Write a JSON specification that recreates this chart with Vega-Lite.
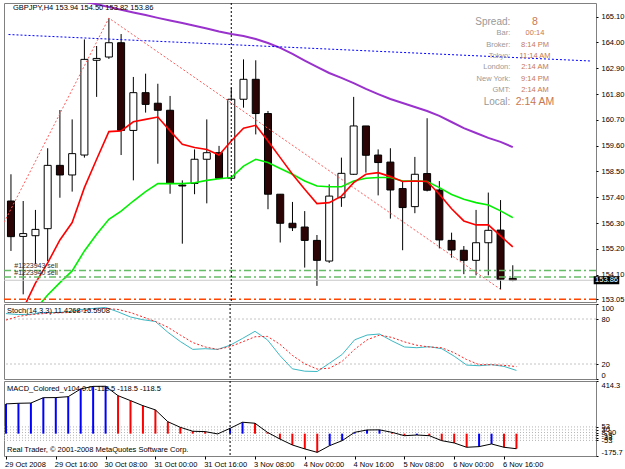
{
  "$schema": "https://vega.github.io/schema/vega-lite/v6.json",
  "background": "#ffffff",
  "padding": {"left": 2, "top": 2, "right": 0, "bottom": 0},
  "spacing": 2,
  "bounds": "flush",
  "config": {
    "view": {"stroke": "#808080", "strokeWidth": 1},
    "axis": {"labelFont": "Liberation Sans", "labelFontSize": 7.5, "labelColor": "#000000", "tickColor": "#000000", "tickSize": 2, "domain": false, "grid": false, "labelOverlap": false, "labelBound": false},
    "text": {"font": "Liberation Sans", "fontSize": 7.5}
  },
  "datasets": {
    "bars": [
      {"i": 0, "o": 157.24, "h": 158.38, "l": 155.11, "c": 155.72},
      {"i": 1, "o": 155.73, "h": 157.24, "l": 153.26, "c": 155.85},
      {"i": 2, "o": 155.76, "h": 156.86, "l": 154.54, "c": 156.03},
      {"i": 3, "o": 156.06, "h": 159.49, "l": 154.68, "c": 158.76},
      {"i": 4, "o": 158.76, "h": 161.12, "l": 157.38, "c": 158.35},
      {"i": 5, "o": 158.35, "h": 160.72, "l": 157.64, "c": 159.26},
      {"i": 6, "o": 159.20, "h": 164.13, "l": 159.09, "c": 163.28},
      {"i": 7, "o": 163.24, "h": 163.85, "l": 161.68, "c": 163.32},
      {"i": 8, "o": 163.38, "h": 165.04, "l": 163.30, "c": 163.99},
      {"i": 9, "o": 163.99, "h": 164.36, "l": 159.20, "c": 160.25},
      {"i": 10, "o": 160.25, "h": 162.53, "l": 158.12, "c": 161.86},
      {"i": 11, "o": 161.86, "h": 162.67, "l": 161.01, "c": 161.36},
      {"i": 12, "o": 161.41, "h": 162.24, "l": 158.83, "c": 161.11},
      {"i": 13, "o": 161.11, "h": 161.72, "l": 157.55, "c": 157.99},
      {"i": 14, "o": 157.92, "h": 158.12, "l": 155.42, "c": 157.88},
      {"i": 15, "o": 157.99, "h": 159.44, "l": 157.53, "c": 159.02},
      {"i": 16, "o": 159.02, "h": 160.72, "l": 157.14, "c": 159.30},
      {"i": 17, "o": 159.30, "h": 159.59, "l": 158.17, "c": 158.21},
      {"i": 18, "o": 158.21, "h": 162.07, "l": 158.12, "c": 161.58},
      {"i": 19, "o": 161.58, "h": 163.28, "l": 161.22, "c": 162.43},
      {"i": 20, "o": 162.43, "h": 163.24, "l": 160.08, "c": 160.97},
      {"i": 21, "o": 160.97, "h": 161.08, "l": 156.89, "c": 157.53},
      {"i": 22, "o": 157.53, "h": 157.53, "l": 155.47, "c": 156.29},
      {"i": 23, "o": 156.29, "h": 157.20, "l": 155.96, "c": 156.10},
      {"i": 24, "o": 156.13, "h": 156.81, "l": 154.40, "c": 155.56},
      {"i": 25, "o": 155.56, "h": 155.79, "l": 153.62, "c": 154.71},
      {"i": 26, "o": 154.68, "h": 157.95, "l": 154.60, "c": 157.45},
      {"i": 27, "o": 157.38, "h": 159.09, "l": 156.99, "c": 158.42},
      {"i": 28, "o": 158.38, "h": 161.68, "l": 158.35, "c": 160.44},
      {"i": 29, "o": 160.44, "h": 160.44, "l": 158.45, "c": 159.19},
      {"i": 30, "o": 159.20, "h": 159.44, "l": 157.48, "c": 158.88},
      {"i": 31, "o": 158.90, "h": 159.49, "l": 156.49, "c": 157.71},
      {"i": 32, "o": 157.77, "h": 158.09, "l": 155.14, "c": 156.96},
      {"i": 33, "o": 157.00, "h": 159.12, "l": 156.72, "c": 158.38},
      {"i": 34, "o": 158.41, "h": 160.77, "l": 157.65, "c": 157.70},
      {"i": 35, "o": 157.71, "h": 158.09, "l": 155.22, "c": 155.58},
      {"i": 36, "o": 155.56, "h": 155.89, "l": 154.82, "c": 155.15},
      {"i": 37, "o": 155.14, "h": 155.32, "l": 154.12, "c": 154.71},
      {"i": 38, "o": 154.71, "h": 156.86, "l": 154.07, "c": 155.46},
      {"i": 39, "o": 155.46, "h": 157.60, "l": 154.07, "c": 155.99},
      {"i": 40, "o": 156.00, "h": 157.28, "l": 153.47, "c": 153.90},
      {"i": 41, "o": 153.94, "h": 154.50, "l": 153.82, "c": 153.86}
    ],
    "ma": [
      {"i": 0, "fast": 151.60, "slow": 151.70},
      {"i": 1, "fast": 152.65, "slow": 152.12},
      {"i": 2, "fast": 153.74, "slow": 152.62},
      {"i": 3, "fast": 154.60, "slow": 153.23},
      {"i": 4, "fast": 155.58, "slow": 153.76},
      {"i": 5, "fast": 156.32, "slow": 154.26},
      {"i": 6, "fast": 157.81, "slow": 155.11},
      {"i": 7, "fast": 159.02, "slow": 155.82},
      {"i": 8, "fast": 160.20, "slow": 156.46},
      {"i": 9, "fast": 160.23, "slow": 156.81},
      {"i": 10, "fast": 160.62, "slow": 157.24},
      {"i": 11, "fast": 160.72, "slow": 157.64},
      {"i": 12, "fast": 160.82, "slow": 157.98},
      {"i": 13, "fast": 160.23, "slow": 157.98},
      {"i": 14, "fast": 159.66, "slow": 157.98},
      {"i": 15, "fast": 159.52, "slow": 158.02},
      {"i": 16, "fast": 159.44, "slow": 158.12},
      {"i": 17, "fast": 159.20, "slow": 158.19},
      {"i": 18, "fast": 159.80, "slow": 158.24},
      {"i": 19, "fast": 160.34, "slow": 158.73},
      {"i": 20, "fast": 160.47, "slow": 159.02},
      {"i": 21, "fast": 159.80, "slow": 158.88},
      {"i": 22, "fast": 159.09, "slow": 158.63},
      {"i": 23, "fast": 158.38, "slow": 158.38},
      {"i": 24, "fast": 157.74, "slow": 158.09},
      {"i": 25, "fast": 157.13, "slow": 157.88},
      {"i": 26, "fast": 157.17, "slow": 157.85},
      {"i": 27, "fast": 157.45, "slow": 157.85},
      {"i": 28, "fast": 158.02, "slow": 158.09},
      {"i": 29, "fast": 158.38, "slow": 158.21},
      {"i": 30, "fast": 158.45, "slow": 158.24},
      {"i": 31, "fast": 158.28, "slow": 158.24},
      {"i": 32, "fast": 158.07, "slow": 158.09},
      {"i": 33, "fast": 158.09, "slow": 158.09},
      {"i": 34, "fast": 158.07, "slow": 158.07},
      {"i": 35, "fast": 157.53, "slow": 157.81},
      {"i": 36, "fast": 156.91, "slow": 157.52},
      {"i": 37, "fast": 156.39, "slow": 157.31},
      {"i": 38, "fast": 156.22, "slow": 157.17},
      {"i": 39, "fast": 156.22, "slow": 157.07},
      {"i": 40, "fast": 155.75, "slow": 156.82},
      {"i": 41, "fast": 155.28, "slow": 156.53}
    ],
    "longma": [
      {"i": 5, "p": 165.85}, {"i": 6, "p": 165.74}, {"i": 7, "p": 165.63}, {"i": 8, "p": 165.51},
      {"i": 9, "p": 165.40}, {"i": 10, "p": 165.28}, {"i": 11, "p": 165.17}, {"i": 12, "p": 165.05},
      {"i": 13, "p": 164.94}, {"i": 14, "p": 164.83}, {"i": 15, "p": 164.71}, {"i": 16, "p": 164.60},
      {"i": 17, "p": 164.47}, {"i": 18, "p": 164.36}, {"i": 19, "p": 164.28}, {"i": 20, "p": 164.15},
      {"i": 21, "p": 163.98}, {"i": 22, "p": 163.77}, {"i": 23, "p": 163.51}, {"i": 24, "p": 163.23},
      {"i": 25, "p": 162.96}, {"i": 26, "p": 162.70}, {"i": 27, "p": 162.49}, {"i": 28, "p": 162.27},
      {"i": 29, "p": 162.02}, {"i": 30, "p": 161.80}, {"i": 31, "p": 161.59}, {"i": 32, "p": 161.42},
      {"i": 33, "p": 161.25}, {"i": 34, "p": 161.08}, {"i": 35, "p": 160.87}, {"i": 36, "p": 160.61},
      {"i": 37, "p": 160.35}, {"i": 38, "p": 160.14}, {"i": 39, "p": 159.93}, {"i": 40, "p": 159.76},
      {"i": 41, "p": 159.54}
    ],
    "trend": [{"i": -0.2, "p": 164.34}, {"i": 47.4, "p": 163.21}],
    "zigzag": [{"i": -1, "p": 155.88}, {"i": 8, "p": 165.04}, {"i": 40, "p": 153.47}],
    "orders": [
      {"label": "#1223943 sell", "price": 154.28},
      {"label": "#1223940 sell", "price": 154.00}
    ],
    "info": [
      {"row": 0, "label": "Spread:", "value": "8"},
      {"row": 1, "label": "Bar:", "value": "00:14"},
      {"row": 2, "label": "Broker:", "value": "8:14 PM"},
      {"row": 3, "label": "Tokyo:", "value": "11:14 AM"},
      {"row": 4, "label": "London:", "value": "2:14 AM"},
      {"row": 5, "label": "New York:", "value": "9:14 PM"},
      {"row": 6, "label": "GMT:", "value": "2:14 AM"},
      {"row": 7, "label": "Local:", "value": "2:14 AM"}
    ],
    "stoch": [
      {"i": 0, "k": 87.2, "d": 78.6}, {"i": 1, "k": 85.9, "d": 83.5}, {"i": 2, "k": 86.3, "d": 85.9},
      {"i": 3, "k": 88.6, "d": 87.2}, {"i": 4, "k": 88.6, "d": 88.1}, {"i": 5, "k": 89.5, "d": 88.6},
      {"i": 6, "k": 92.6, "d": 90.4}, {"i": 7, "k": 94.0, "d": 92.7}, {"i": 8, "k": 95.4, "d": 94.0},
      {"i": 9, "k": 89.5, "d": 92.7}, {"i": 10, "k": 82.7, "d": 88.6}, {"i": 11, "k": 79.0, "d": 82.7},
      {"i": 12, "k": 76.7, "d": 76.7}, {"i": 13, "k": 62.3, "d": 69.0}, {"i": 14, "k": 50.0, "d": 58.6},
      {"i": 15, "k": 39.5, "d": 48.6}, {"i": 16, "k": 40.4, "d": 42.7}, {"i": 17, "k": 39.5, "d": 39.5},
      {"i": 18, "k": 45.0, "d": 43.1}, {"i": 19, "k": 54.1, "d": 49.5}, {"i": 20, "k": 63.6, "d": 56.3},
      {"i": 21, "k": 52.2, "d": 56.8}, {"i": 22, "k": 31.3, "d": 46.3}, {"i": 23, "k": 13.6, "d": 31.5},
      {"i": 24, "k": 10.4, "d": 20.2}, {"i": 25, "k": 10.0, "d": 13.2}, {"i": 26, "k": 21.3, "d": 14.5},
      {"i": 27, "k": 32.7, "d": 23.6}, {"i": 28, "k": 52.2, "d": 39.5}, {"i": 29, "k": 58.6, "d": 52.2},
      {"i": 30, "k": 60.0, "d": 58.6}, {"i": 31, "k": 50.8, "d": 55.4}, {"i": 32, "k": 42.7, "d": 49.5},
      {"i": 33, "k": 41.7, "d": 45.0}, {"i": 34, "k": 43.1, "d": 42.7}, {"i": 35, "k": 40.4, "d": 41.7},
      {"i": 36, "k": 30.4, "d": 35.0}, {"i": 37, "k": 18.6, "d": 25.9}, {"i": 38, "k": 17.7, "d": 19.1},
      {"i": 39, "k": 19.1, "d": 19.1}, {"i": 40, "k": 16.8, "d": 18.2}, {"i": 41, "k": 11.4268, "d": 16.5908}
    ],
    "macd": [
      {"i": 0, "v": 234, "dir": "up"}, {"i": 1, "v": 239, "dir": "up"}, {"i": 2, "v": 241, "dir": "up"},
      {"i": 3, "v": 283, "dir": "up"}, {"i": 4, "v": 284, "dir": "up"}, {"i": 5, "v": 291, "dir": "up"},
      {"i": 6, "v": 352, "dir": "up"}, {"i": 7, "v": 372, "dir": "up"}, {"i": 8, "v": 373, "dir": "up"},
      {"i": 9, "v": 299, "dir": "down"}, {"i": 10, "v": 260, "dir": "down"}, {"i": 11, "v": 220, "dir": "down"},
      {"i": 12, "v": 187, "dir": "down"}, {"i": 13, "v": 94, "dir": "down"}, {"i": 14, "v": 50, "dir": "down"},
      {"i": 15, "v": 19, "dir": "down"}, {"i": 16, "v": 16, "dir": "down"}, {"i": 17, "v": -2, "dir": "down"},
      {"i": 18, "v": 42, "dir": "up"}, {"i": 19, "v": 90, "dir": "up"}, {"i": 20, "v": 82, "dir": "down"},
      {"i": 21, "v": 10.5, "dir": "down"}, {"i": 22, "v": -42, "dir": "down"}, {"i": 23, "v": -89, "dir": "down"},
      {"i": 24, "v": -120, "dir": "down"}, {"i": 25, "v": -147, "dir": "down"}, {"i": 26, "v": -94, "dir": "up"},
      {"i": 27, "v": -55, "dir": "up"}, {"i": 28, "v": 10.5, "dir": "up"}, {"i": 29, "v": 29, "dir": "up"},
      {"i": 30, "v": 30, "dir": "up"}, {"i": 31, "v": 10.5, "dir": "down"}, {"i": 32, "v": -16, "dir": "down"},
      {"i": 33, "v": -10.5, "dir": "up"}, {"i": 34, "v": -16, "dir": "down"}, {"i": 35, "v": -55, "dir": "down"},
      {"i": 36, "v": -73, "dir": "down"}, {"i": 37, "v": -107, "dir": "down"}, {"i": 38, "v": -102, "dir": "up"},
      {"i": 39, "v": -81, "dir": "up"}, {"i": 40, "v": -107, "dir": "down"}, {"i": 41, "v": -118.5, "dir": "down"}
    ]
  },
  "vconcat": [
    {
      "width": 592,
      "height": 299,
      "resolve": {"scale": {"y": "independent"}, "axis": {"y": "independent"}},
      "layer": [
        {
          "layer": [
            {
              "data": {"name": "bars"},
              "mark": {"type": "rule", "color": "#000000", "strokeWidth": 1, "clip": true},
              "encoding": {
                "x": {"field": "i", "type": "quantitative", "title": null, "scale": {"domain": [-0.16, 47.39], "nice": false, "zero": false}, "axis": null},
                "y": {"field": "l", "type": "quantitative", "title": null, "scale": {"domain": [152.933, 165.684], "nice": false, "zero": false}, "axis": {"orient": "right", "title": null, "values": [165.10, 164.00, 162.90, 161.80, 160.70, 159.60, 158.50, 157.40, 156.30, 155.20, 154.10, 153.05], "format": ".2f", "labelPadding": 3, "tickSize": 2, "labelOverlap": false, "labelBaseline": "middle"}},
                "y2": {"field": "h"}
              }
            },
            {
              "data": {"name": "bars"},
              "mark": {"type": "bar", "size": 7, "stroke": "#000000", "strokeWidth": 1, "clip": true},
              "encoding": {
                "x": {"field": "i", "type": "quantitative", "title": null, "scale": {"domain": [-0.16, 47.39], "nice": false, "zero": false}, "axis": null},
                "y": {"field": "o", "type": "quantitative", "title": null, "scale": {"domain": [152.933, 165.684], "nice": false, "zero": false}, "axis": {"orient": "right", "title": null, "values": [165.10, 164.00, 162.90, 161.80, 160.70, 159.60, 158.50, 157.40, 156.30, 155.20, 154.10, 153.05], "format": ".2f", "labelPadding": 3, "tickSize": 2, "labelOverlap": false, "labelBaseline": "middle"}},
                "y2": {"field": "c"},
                "fill": {"condition": {"test": "datum.c < datum.o", "value": "#2b0505"}, "value": "#ffffff"}
              }
            },
            {
              "data": {"name": "ma"},
              "mark": {"type": "line", "color": "#00f000", "strokeWidth": 1.6, "clip": true},
              "encoding": {
                "x": {"field": "i", "type": "quantitative", "title": null, "scale": {"domain": [-0.16, 47.39], "nice": false, "zero": false}, "axis": null},
                "y": {"field": "slow", "type": "quantitative", "title": null, "scale": {"domain": [152.933, 165.684], "nice": false, "zero": false}, "axis": {"orient": "right", "title": null, "values": [165.10, 164.00, 162.90, 161.80, 160.70, 159.60, 158.50, 157.40, 156.30, 155.20, 154.10, 153.05], "format": ".2f", "labelPadding": 3, "tickSize": 2, "labelOverlap": false, "labelBaseline": "middle"}}
              }
            },
            {
              "data": {"name": "ma"},
              "mark": {"type": "line", "color": "#ff0000", "strokeWidth": 1.6, "clip": true},
              "encoding": {
                "x": {"field": "i", "type": "quantitative", "title": null, "scale": {"domain": [-0.16, 47.39], "nice": false, "zero": false}, "axis": null},
                "y": {"field": "fast", "type": "quantitative", "title": null, "scale": {"domain": [152.933, 165.684], "nice": false, "zero": false}, "axis": {"orient": "right", "title": null, "values": [165.10, 164.00, 162.90, 161.80, 160.70, 159.60, 158.50, 157.40, 156.30, 155.20, 154.10, 153.05], "format": ".2f", "labelPadding": 3, "tickSize": 2, "labelOverlap": false, "labelBaseline": "middle"}}
              }
            },
            {
              "data": {"name": "longma"},
              "mark": {"type": "line", "color": "#9932cc", "strokeWidth": 2, "clip": true},
              "encoding": {
                "x": {"field": "i", "type": "quantitative", "title": null, "scale": {"domain": [-0.16, 47.39], "nice": false, "zero": false}, "axis": null},
                "y": {"field": "p", "type": "quantitative", "title": null, "scale": {"domain": [152.933, 165.684], "nice": false, "zero": false}, "axis": {"orient": "right", "title": null, "values": [165.10, 164.00, 162.90, 161.80, 160.70, 159.60, 158.50, 157.40, 156.30, 155.20, 154.10, 153.05], "format": ".2f", "labelPadding": 3, "tickSize": 2, "labelOverlap": false, "labelBaseline": "middle"}}
              }
            },
            {
              "data": {"name": "trend"},
              "mark": {"type": "line", "color": "#0000ff", "strokeWidth": 1, "strokeDash": [2, 2], "clip": true},
              "encoding": {
                "x": {"field": "i", "type": "quantitative", "title": null, "scale": {"domain": [-0.16, 47.39], "nice": false, "zero": false}, "axis": null},
                "y": {"field": "p", "type": "quantitative", "title": null, "scale": {"domain": [152.933, 165.684], "nice": false, "zero": false}, "axis": {"orient": "right", "title": null, "values": [165.10, 164.00, 162.90, 161.80, 160.70, 159.60, 158.50, 157.40, 156.30, 155.20, 154.10, 153.05], "format": ".2f", "labelPadding": 3, "tickSize": 2, "labelOverlap": false, "labelBaseline": "middle"}}
              }
            },
            {
              "data": {"name": "zigzag"},
              "mark": {"type": "line", "color": "#ff5a5a", "strokeWidth": 1, "strokeDash": [2, 2], "clip": true},
              "encoding": {
                "x": {"field": "i", "type": "quantitative", "title": null, "scale": {"domain": [-0.16, 47.39], "nice": false, "zero": false}, "axis": null},
                "y": {"field": "p", "type": "quantitative", "title": null, "scale": {"domain": [152.933, 165.684], "nice": false, "zero": false}, "axis": {"orient": "right", "title": null, "values": [165.10, 164.00, 162.90, 161.80, 160.70, 159.60, 158.50, 157.40, 156.30, 155.20, 154.10, 153.05], "format": ".2f", "labelPadding": 3, "tickSize": 2, "labelOverlap": false, "labelBaseline": "middle"}}
              }
            },
            {
              "data": {"name": "orders"},
              "mark": {"type": "rule", "color": "#66bb66", "strokeWidth": 1.5, "strokeDash": [7, 3, 2, 3]},
              "encoding": {
                "y": {"field": "price", "type": "quantitative", "title": null, "scale": {"domain": [152.933, 165.684], "nice": false, "zero": false}, "axis": {"orient": "right", "title": null, "values": [165.10, 164.00, 162.90, 161.80, 160.70, 159.60, 158.50, 157.40, 156.30, 155.20, 154.10, 153.05], "format": ".2f", "labelPadding": 3, "tickSize": 2, "labelOverlap": false, "labelBaseline": "middle"}}
              }
            },
            {
              "data": {"name": "orders"},
              "mark": {"type": "text", "align": "left", "baseline": "bottom", "dy": -1, "color": "#303030", "fontSize": 7},
              "encoding": {
                "x": {"datum": 0.27},
                "y": {"field": "price", "type": "quantitative", "title": null, "scale": {"domain": [152.933, 165.684], "nice": false, "zero": false}, "axis": {"orient": "right", "title": null, "values": [165.10, 164.00, 162.90, 161.80, 160.70, 159.60, 158.50, 157.40, 156.30, 155.20, 154.10, 153.05], "format": ".2f", "labelPadding": 3, "tickSize": 2, "labelOverlap": false, "labelBaseline": "middle"}},
                "text": {"field": "label"}
              }
            },
            {
              "data": {"values": [{"tp": 153.05}]},
              "mark": {"type": "rule", "color": "#ff4500", "strokeWidth": 1.5, "strokeDash": [7, 3, 2, 3]},
              "encoding": {
                "y": {"field": "tp", "type": "quantitative", "title": null, "scale": {"domain": [152.933, 165.684], "nice": false, "zero": false}, "axis": {"orient": "right", "title": null, "values": [165.10, 164.00, 162.90, 161.80, 160.70, 159.60, 158.50, 157.40, 156.30, 155.20, 154.10, 153.05], "format": ".2f", "labelPadding": 3, "tickSize": 2, "labelOverlap": false, "labelBaseline": "middle"}}
              }
            },
            {
              "data": {"values": [{"bid": 153.86}]},
              "mark": {"type": "rule", "color": "#c8c8c8", "strokeWidth": 1},
              "encoding": {
                "y": {"field": "bid", "type": "quantitative", "title": null, "scale": {"domain": [152.933, 165.684], "nice": false, "zero": false}, "axis": {"orient": "right", "title": null, "values": [165.10, 164.00, 162.90, 161.80, 160.70, 159.60, 158.50, 157.40, 156.30, 155.20, 154.10, 153.05], "format": ".2f", "labelPadding": 3, "tickSize": 2, "labelOverlap": false, "labelBaseline": "middle"}}
              }
            },
            {
              "data": {"values": [{"bid": 153.86}]},
              "mark": {"type": "rect", "color": "#000000"},
              "encoding": {
                "x": {"datum": 47.61},
                "x2": {"datum": 49.7},
                "y": {"datum": 154.03, "title": null, "scale": {"domain": [152.933, 165.684], "nice": false, "zero": false}, "axis": {"orient": "right", "title": null, "values": [165.10, 164.00, 162.90, 161.80, 160.70, 159.60, 158.50, 157.40, 156.30, 155.20, 154.10, 153.05], "format": ".2f", "labelPadding": 3, "tickSize": 2, "labelOverlap": false, "labelBaseline": "middle"}},
                "y2": {"datum": 153.69}
              }
            },
            {
              "data": {"values": [{"bid": 153.86}]},
              "mark": {"type": "text", "align": "left", "baseline": "middle", "color": "#ffffff"},
              "encoding": {
                "x": {"datum": 47.72},
                "y": {"field": "bid", "type": "quantitative", "title": null, "scale": {"domain": [152.933, 165.684], "nice": false, "zero": false}, "axis": {"orient": "right", "title": null, "values": [165.10, 164.00, 162.90, 161.80, 160.70, 159.60, 158.50, 157.40, 156.30, 155.20, 154.10, 153.05], "format": ".2f", "labelPadding": 3, "tickSize": 2, "labelOverlap": false, "labelBaseline": "middle"}},
                "text": {"field": "bid", "format": ".2f"}
              }
            },
            {
              "data": {"values": [{"t": "cursor"}]},
              "mark": {"type": "rule", "color": "#000000", "strokeWidth": 1, "strokeDash": [2, 2]},
              "encoding": {"x": {"datum": 18}}
            },
            {
              "data": {"values": [{"t": "GBPJPY,H4 153.94 154.50 153.82 153.86"}]},
              "mark": {"type": "text", "align": "left", "baseline": "middle", "color": "#000000"},
              "encoding": {
                "x": {"datum": 0.16},
                "y": {"datum": 165.48, "title": null, "scale": {"domain": [152.933, 165.684], "nice": false, "zero": false}, "axis": {"orient": "right", "title": null, "values": [165.10, 164.00, 162.90, 161.80, 160.70, 159.60, 158.50, 157.40, 156.30, 155.20, 154.10, 153.05], "format": ".2f", "labelPadding": 3, "tickSize": 2, "labelOverlap": false, "labelBaseline": "middle"}},
                "text": {"field": "t"}
              }
            }
          ]
        },
        {
          "data": {"name": "info"},
          "encoding": {
            "y": {"field": "row", "type": "quantitative", "title": null, "scale": {"domain": [-1.636, 24.52], "reverse": true, "nice": false, "zero": false}, "axis": null}
          },
          "layer": [
            {
              "mark": {"type": "text", "align": "right", "baseline": "middle", "color": "#999999"},
              "encoding": {
                "x": {"datum": 40.8},
                "text": {"field": "label"},
                "size": {"condition": {"test": "datum.row == 0 || datum.row == 7", "value": 10}, "value": 7.5}
              }
            },
            {
              "mark": {"type": "text", "align": "center", "baseline": "middle", "color": "#c87850"},
              "encoding": {
                "x": {"datum": 42.81},
                "text": {"field": "value"},
                "size": {"condition": {"test": "datum.row == 0 || datum.row == 7", "value": 10.5}, "value": 7.5}
              }
            }
          ]
        }
      ]
    },
    {
      "width": 592,
      "height": 75,
      "layer": [
        {
          "data": {"values": [{"lvl": 80}, {"lvl": 20}]},
          "mark": {"type": "rule", "color": "#c4c4c4", "strokeWidth": 1, "strokeDash": [2, 2]},
          "encoding": {
            "y": {"field": "lvl", "type": "quantitative", "title": null, "scale": {"domain": [0, 100], "nice": false, "zero": false}, "axis": {"orient": "right", "title": null, "values": [0, 20, 80, 100], "labelFlush": true, "labelPadding": 3, "tickSize": 2, "labelOverlap": false}}
          }
        },
        {
          "data": {"name": "stoch"},
          "mark": {"type": "line", "color": "#3cb8c4", "strokeWidth": 1, "clip": true},
          "encoding": {
            "x": {"field": "i", "type": "quantitative", "title": null, "scale": {"domain": [-0.16, 47.39], "nice": false, "zero": false}, "axis": null},
            "y": {"field": "k", "type": "quantitative", "title": null, "scale": {"domain": [0, 100], "nice": false, "zero": false}, "axis": {"orient": "right", "title": null, "values": [0, 20, 80, 100], "labelFlush": true, "labelPadding": 3, "tickSize": 2, "labelOverlap": false}}
          }
        },
        {
          "data": {"name": "stoch"},
          "mark": {"type": "line", "color": "#ff2020", "strokeWidth": 1, "strokeDash": [2, 2], "clip": true},
          "encoding": {
            "x": {"field": "i", "type": "quantitative", "title": null, "scale": {"domain": [-0.16, 47.39], "nice": false, "zero": false}, "axis": null},
            "y": {"field": "d", "type": "quantitative", "title": null, "scale": {"domain": [0, 100], "nice": false, "zero": false}, "axis": {"orient": "right", "title": null, "values": [0, 20, 80, 100], "labelFlush": true, "labelPadding": 3, "tickSize": 2, "labelOverlap": false}}
          }
        },
        {
          "data": {"values": [{"t": "cursor"}]},
          "mark": {"type": "rule", "color": "#000000", "strokeWidth": 1, "strokeDash": [2, 2]},
          "encoding": {"x": {"datum": 18}}
        },
        {
          "data": {"values": [{"t": "Stoch(14,3,3) 11.4268 16.5908"}]},
          "mark": {"type": "text", "align": "left", "baseline": "middle", "color": "#000000"},
          "encoding": {
            "x": {"datum": 0.08},
            "y": {"datum": 90.3, "title": null, "scale": {"domain": [0, 100], "nice": false, "zero": false}, "axis": {"orient": "right", "title": null, "values": [0, 20, 80, 100], "labelFlush": true, "labelPadding": 3, "tickSize": 2, "labelOverlap": false}},
            "text": {"field": "t"}
          }
        }
      ]
    },
    {
      "width": 592,
      "height": 75,
      "layer": [
        {
          "data": {"values": [{"lvl": 53}, {"lvl": 30}, {"lvl": 8.9}, {"lvl": -13}, {"lvl": -33}, {"lvl": -53}]},
          "mark": {"type": "rule", "color": "#b4b4b4", "strokeWidth": 1, "strokeDash": [1, 2]},
          "encoding": {
            "y": {"field": "lvl", "type": "quantitative", "title": null, "scale": {"domain": [-175.7, 414.3], "nice": false, "zero": false}, "axis": {"orient": "right", "title": null, "values": [-175.7, -53, -33, -13, 8.9, 30, 53, 414.3], "labelFlush": true, "labelPadding": 3, "tickSize": 2, "labelOverlap": false, "labelExpr": "datum.value == 8.9 ? '8.90' : toString(datum.value)"}}
          }
        },
        {
          "data": {"name": "macd"},
          "mark": {"type": "rule", "strokeWidth": 2, "clip": true},
          "encoding": {
            "x": {"field": "i", "type": "quantitative", "title": null, "scale": {"domain": [-0.16, 47.39], "nice": false, "zero": false}, "axis": {"title": null, "values": [0, 4, 8, 12, 16, 20, 24, 28, 32, 36, 40], "labelExpr": "['29 Oct 2008','29 Oct 16:00','30 Oct 08:00','31 Oct 00:00','31 Oct 16:00','3 Nov 08:00','4 Nov 00:00','4 Nov 16:00','5 Nov 08:00','6 Nov 00:00','6 Nov 16:00'][datum.value / 4]", "labelAlign": "left", "labelFlush": false, "labelOverlap": false, "labelOffset": -1.5, "tickSize": 3, "labelPadding": 1}},
            "y": {"field": "v", "type": "quantitative", "title": null, "scale": {"domain": [-175.7, 414.3], "nice": false, "zero": false}, "axis": {"orient": "right", "title": null, "values": [-175.7, -53, -33, -13, 8.9, 30, 53, 414.3], "labelFlush": true, "labelPadding": 3, "tickSize": 2, "labelOverlap": false, "labelExpr": "datum.value == 8.9 ? '8.90' : toString(datum.value)"}},
            "y2": {"datum": 0},
            "color": {"field": "dir", "type": "nominal", "scale": {"domain": ["up", "down"], "range": ["#0000ff", "#ff0000"]}, "legend": null}
          }
        },
        {
          "data": {"name": "macd"},
          "mark": {"type": "line", "color": "#000000", "strokeWidth": 1, "clip": true},
          "encoding": {
            "x": {"field": "i", "type": "quantitative", "title": null, "scale": {"domain": [-0.16, 47.39], "nice": false, "zero": false}, "axis": {"title": null, "values": [0, 4, 8, 12, 16, 20, 24, 28, 32, 36, 40], "labelExpr": "['29 Oct 2008','29 Oct 16:00','30 Oct 08:00','31 Oct 00:00','31 Oct 16:00','3 Nov 08:00','4 Nov 00:00','4 Nov 16:00','5 Nov 08:00','6 Nov 00:00','6 Nov 16:00'][datum.value / 4]", "labelAlign": "left", "labelFlush": false, "labelOverlap": false, "labelOffset": -1.5, "tickSize": 3, "labelPadding": 1}},
            "y": {"field": "v", "type": "quantitative", "title": null, "scale": {"domain": [-175.7, 414.3], "nice": false, "zero": false}, "axis": {"orient": "right", "title": null, "values": [-175.7, -53, -33, -13, 8.9, 30, 53, 414.3], "labelFlush": true, "labelPadding": 3, "tickSize": 2, "labelOverlap": false, "labelExpr": "datum.value == 8.9 ? '8.90' : toString(datum.value)"}}
          }
        },
        {
          "data": {"values": [{"t": "cursor"}]},
          "mark": {"type": "rule", "color": "#000000", "strokeWidth": 1, "strokeDash": [2, 2]},
          "encoding": {"x": {"datum": 18}}
        },
        {
          "data": {"values": [{"t": "MACD_Colored_v104 0.0 -118.5 -118.5 -118.5", "pos": 351}, {"t": "Real Trader, © 2001-2008 MetaQuotes Software Corp.", "pos": -128}]},
          "mark": {"type": "text", "align": "left", "baseline": "middle", "color": "#000000"},
          "encoding": {
            "x": {"datum": 0.08},
            "y": {"field": "pos", "type": "quantitative", "title": null, "scale": {"domain": [-175.7, 414.3], "nice": false, "zero": false}, "axis": {"orient": "right", "title": null, "values": [-175.7, -53, -33, -13, 8.9, 30, 53, 414.3], "labelFlush": true, "labelPadding": 3, "tickSize": 2, "labelOverlap": false, "labelExpr": "datum.value == 8.9 ? '8.90' : toString(datum.value)"}},
            "text": {"field": "t"}
          }
        }
      ]
    }
  ]
}
